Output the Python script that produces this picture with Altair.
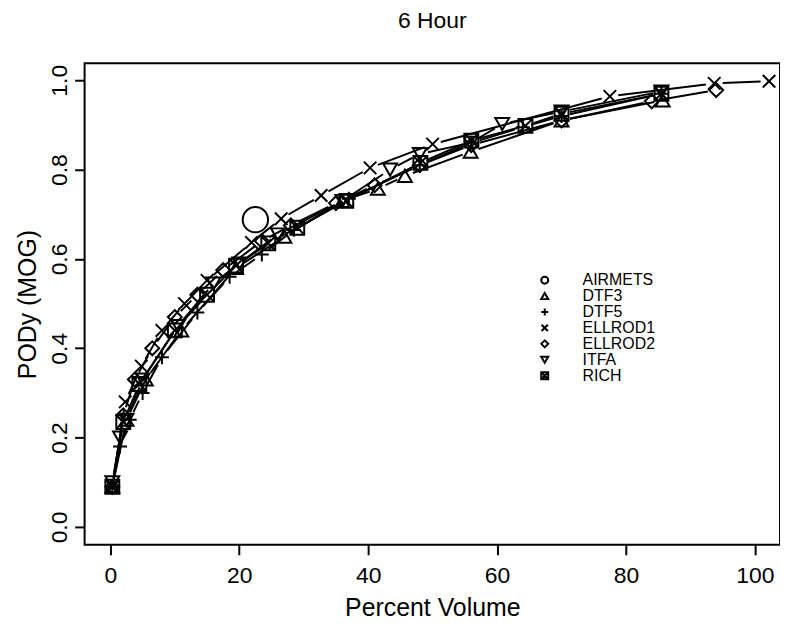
import altair as alt
import pandas as pd
import numpy as np

# ---- data ----
names = ["AIRMETS", "DTF3", "DTF5", "ELLROD1", "ELLROD2", "ITFA", "RICH"]

airmets_x = [22.5]
airmets_y = [0.688]

dtf3_x = [0.3, 2.5, 5.5, 11.0, 19.5, 27.0, 36.0, 41.5, 45.7, 55.9, 70.0, 85.7]
dtf3_y = [0.09, 0.24, 0.33, 0.44, 0.58, 0.65, 0.73, 0.757, 0.786, 0.84, 0.91, 0.955]

dtf5_x = [0.3, 1.5, 3.0, 5.0, 8.0, 13.5, 18.5, 23.5, 28.5, 37.0, 48.0, 56.0, 64.0, 70.0, 85.5]
dtf5_y = [0.09, 0.18, 0.24, 0.30, 0.38, 0.48, 0.56, 0.61, 0.665, 0.735, 0.81, 0.86, 0.895, 0.92, 0.97]

ellrod1_x = [0.3, 2.3, 4.8, 8.0, 11.5, 15.0, 21.9, 26.5, 32.7, 40.3, 50.0, 77.5, 93.7, 102.2]
ellrod1_y = [0.09, 0.28, 0.36, 0.44, 0.50, 0.552, 0.637, 0.69, 0.742, 0.804, 0.857, 0.964, 0.993, 0.998]

ellrod2_x = [0.3, 2.0, 3.8, 6.5, 10.0, 13.5, 17.5, 23.5, 28.0, 35.0, 41.0, 48.0, 56.0, 70.0, 84.0, 94.0]
ellrod2_y = [0.09, 0.25, 0.33, 0.40, 0.47, 0.52, 0.575, 0.64, 0.675, 0.725, 0.765, 0.81, 0.855, 0.91, 0.953, 0.978]

itfa_x = [0.3, 1.5, 2.5, 5.0, 10.5, 16.0, 20.0, 26.0, 36.0, 43.4, 48.0, 55.9, 60.8, 70.0, 85.5]
itfa_y = [0.10, 0.20, 0.24, 0.33, 0.45, 0.545, 0.59, 0.655, 0.73, 0.80, 0.835, 0.86, 0.902, 0.93, 0.975]

rich_x = [0.3, 2.0, 4.5, 10.0, 15.0, 19.5, 24.5, 29.0, 36.6, 48.1, 56.0, 64.4, 70.0, 85.5]
rich_y = [0.09, 0.235, 0.32, 0.44, 0.52, 0.585, 0.635, 0.67, 0.73, 0.815, 0.865, 0.898, 0.925, 0.97]

x_ticks = [0, 20, 40, 60, 80, 100]
y_ticks = [0.0, 0.2, 0.4, 0.6, 0.8, 1.0]

# ---- layout / style ----
XMIN, XMAX = -4.0, 103.9
YMIN, YMAX = -0.040, 1.038
W, H = 699, 484
GAP = 8.5  # px gap between line ends and point centres (R type="b")
FONT = "Liberation Sans"

series = {
    "AIRMETS": (airmets_x, airmets_y),
    "DTF3": (dtf3_x, dtf3_y),
    "DTF5": (dtf5_x, dtf5_y),
    "ELLROD1": (ellrod1_x, ellrod1_y),
    "ELLROD2": (ellrod2_x, ellrod2_y),
    "ITFA": (itfa_x, itfa_y),
    "RICH": (rich_x, rich_y),
}

pts_rows = []
seg_rows = []
kx = W / (XMAX - XMIN)
ky = H / (YMAX - YMIN)
for name, (xs, ys) in series.items():
    for a, b in zip(xs, ys):
        pts_rows.append({"series": name, "x": a, "y": b})
    for i in range(len(xs) - 1):
        x1, y1, x2, y2 = xs[i], ys[i], xs[i + 1], ys[i + 1]
        L = np.hypot((x2 - x1) * kx, (y2 - y1) * ky)
        if L > 2 * GAP + 1:
            f = GAP / L
            seg_rows.append({
                "series": name,
                "x": x1 + f * (x2 - x1), "y": y1 + f * (y2 - y1),
                "x2": x2 - f * (x2 - x1), "y2": y2 - f * (y2 - y1),
            })

pts = pd.DataFrame(pts_rows)
segs = pd.DataFrame(seg_rows)

shapes = [
    "circle",
    "triangle-up",
    "M-1,0L1,0M0,-1L0,1",
    "M-0.9,-0.9L0.9,0.9M-0.9,0.9L0.9,-0.9",
    "diamond",
    "triangle-down",
    "M-1,-1L1,-1L1,1L-1,1ZM-1,-1L1,1M-1,1L1,-1",
]

xscale = alt.Scale(domain=[XMIN, XMAX], nice=False, zero=False)
yscale = alt.Scale(domain=[YMIN, YMAX], nice=False, zero=False)

xaxis = alt.Axis(values=x_ticks, title="Percent Volume", format="d",
                 labelPadding=10, titlePadding=8)
yaxis = alt.Axis(values=y_ticks, title="PODy (MOG)", format=".1f",
                 labelAngle=-90, labelAlign="center", labelBaseline="bottom",
                 labelPadding=3, titlePadding=8)

rules = alt.Chart(segs).mark_rule(color="black", strokeWidth=2).encode(
    x=alt.X("x:Q", scale=xscale, axis=xaxis),
    y=alt.Y("y:Q", scale=yscale, axis=yaxis),
    x2="x2:Q",
    y2="y2:Q",
    detail="series:N",
)

points = alt.Chart(pts).mark_point(filled=False, color="black", strokeWidth=2, opacity=1).encode(
    x=alt.X("x:Q", scale=xscale, axis=xaxis),
    y=alt.Y("y:Q", scale=yscale, axis=yaxis),
    shape=alt.Shape(
        "series:N",
        scale=alt.Scale(domain=names, range=shapes),
        legend=alt.Legend(
            title=None, orient="none", legendX=454.5, legendY=210,
            symbolSize=49, symbolStrokeWidth=2, symbolStrokeColor="black",
            symbolFillColor="transparent", labelFontSize=16, labelFont=FONT,
            labelColor="black", labelOffset=30, rowPadding=0, padding=0,
        ),
    ),
    size=alt.condition(alt.datum.series == "AIRMETS", alt.value(650), alt.value(195)),
)

chart = alt.layer(rules, points).properties(
    width=W,
    height=H,
    title=alt.TitleParams("6 Hour", fontSize=23, font=FONT, fontWeight="normal",
                          color="black", offset=30),
    autosize=alt.AutoSizeParams(type="none"),
    padding={"left": 77, "top": 54, "right": 0, "bottom": 80},
).configure_view(
    stroke="black", strokeWidth=2
).configure_axis(
    labelFont=FONT, titleFont=FONT, labelFontSize=23, titleFontSize=25,
    titleFontWeight="normal", labelColor="black", titleColor="black",
    tickColor="black", tickWidth=2, tickSize=10, domain=False, grid=False,
)

chart.save("out.html", embed_options={"renderer": "svg", "actions": False})
